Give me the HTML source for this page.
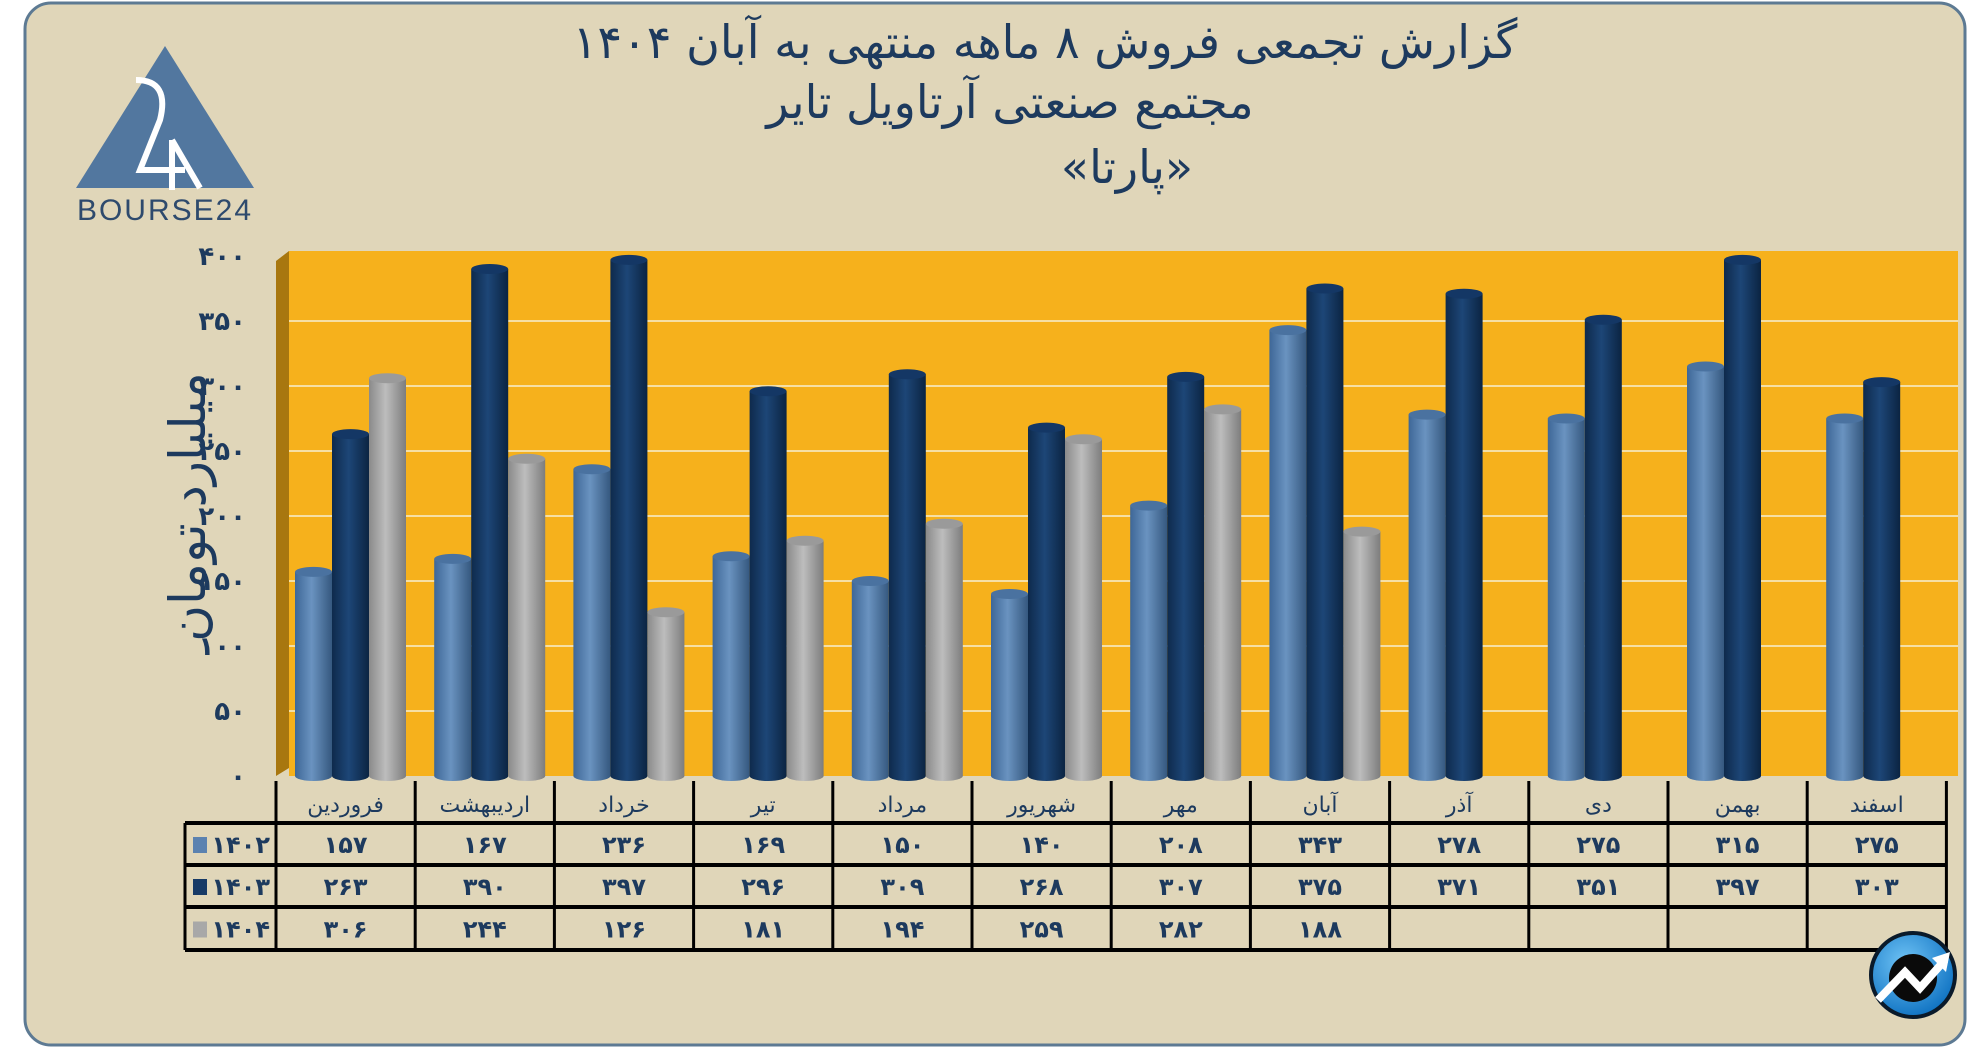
<!DOCTYPE html>
<html><head><meta charset="utf-8">
<style>
html,body{margin:0;padding:0;background:#fff;}
body{width:1986px;height:1047px;overflow:hidden;position:relative;font-family:"DejaVu Sans","Liberation Sans",sans-serif;}
svg{position:absolute;left:0;top:0;}
</style></head>
<body>
<svg id="chart" width="1986" height="1047" viewBox="0 0 1986 1047" xmlns="http://www.w3.org/2000/svg">
<defs>
<linearGradient id="gA" x1="0" x2="1"><stop offset="0" stop-color="#3e6797"/><stop offset="0.45" stop-color="#6a93c0"/><stop offset="1" stop-color="#35587f"/></linearGradient>
<linearGradient id="gB" x1="0" x2="1"><stop offset="0" stop-color="#0e2a4c"/><stop offset="0.45" stop-color="#1d4677"/><stop offset="1" stop-color="#0b2442"/></linearGradient>
<linearGradient id="gC" x1="0" x2="1"><stop offset="0" stop-color="#8a8a8a"/><stop offset="0.45" stop-color="#bdbdbd"/><stop offset="1" stop-color="#7d7d7d"/></linearGradient>
<radialGradient id="gIcon" cx="0.4" cy="0.35" r="0.7"><stop offset="0" stop-color="#6fc3f5"/><stop offset="1" stop-color="#0b6fc0"/></radialGradient>
</defs>
<rect x="25" y="3" width="1940" height="1042" rx="26" fill="#e0d6b9" stroke="#5d7a93" stroke-width="3"/>
<g fill="#1d3a5e" font-size="46" text-anchor="middle" direction="rtl">
<text x="1045" y="58">گزارش تجمعی فروش ۸ ماهه منتهی به آبان ۱۴۰۴</text>
<text x="1010" y="118">مجتمع صنعتی آرتاویل تایر</text>
<text x="1127" y="183">«پارتا»</text>
</g>
<g>
<polygon points="165,46 76,188 254,188" fill="#52779f"/>
<path d="M136,80 Q170,80 160,120 L140,170 L185,170 M172,140 L172,190 M172,140 L200,188" stroke="#fff" stroke-width="6" fill="none"/>
<text x="165" y="220" text-anchor="middle" font-size="30" fill="#2e4a6d" font-family="Liberation Sans, sans-serif" letter-spacing="2">BOURSE24</text>
</g>
<g id="plot"></g>
<g id="table"></g>
<g>
<circle cx="1913" cy="975" r="42" fill="url(#gIcon)" stroke="#0a1a2a" stroke-width="4"/>
<circle cx="1913" cy="978" r="24" fill="#0a0a0a"/>
<path d="M1878,1000 L1905,972 L1920,988 L1945,960" stroke="#fff" stroke-width="8" fill="none"/>
<polygon points="1950,952 1932,958 1946,972" fill="#fff"/>
</g>
</svg>
<script>
const months=["فروردین","اردیبهشت","خرداد","تیر","مرداد","شهریور","مهر","آبان","آذر","دی","بهمن","اسفند"];
const s1402=[157,167,236,169,150,140,208,343,278,275,315,275];
const s1403=[263,390,397,296,309,268,307,375,371,351,397,303];
const s1404=[306,244,126,181,194,259,282,188];
const seriesNames=["۱۴۰۲","۱۴۰۳","۱۴۰۴"];
const yTicks=[0,50,100,150,200,250,300,350,400];

const NS="http://www.w3.org/2000/svg";
function fa(n){return String(n).replace(/\d/g,d=>"۰۱۲۳۴۵۶۷۸۹"[d]);}
function mk(tag,attrs,parent){const e=document.createElementNS(NS,tag);for(const k in attrs)e.setAttribute(k,attrs[k]);parent.appendChild(e);return e;}
const X0=276, CW=139.2, Y0=776, YMAX=400, YPX=520;
const yS=v=>Y0-v/YMAX*YPX;
const plot=document.getElementById('plot');
const table=document.getElementById('table');

// walls
let bw=mk('rect',{x:289,y:251,width:1669,height:Y0-251,fill:'#f6b11c'},plot);


let sw=mk('polygon',{points:`276,${Y0} 289,${Y0-8} 289,${yS(400)-5} 276,${yS(400)+5}`,fill:'#a8770f'},plot);


yTicks.forEach(t=>{
  if(t>0&&t<400){const g=mk('line',{x1:289,x2:1958,y1:yS(t),y2:yS(t),stroke:'#f6dfa4','stroke-width':2},plot);
  
  }
  const l=mk('text',{x:246,y:yS(t)+9,'text-anchor':'end','font-size':26,'font-weight':'bold',fill:'#1d3a5e'},plot);
  
  
  l.textContent=fa(t);
});
const yt=mk('text',{x:0,y:0,'text-anchor':'middle','font-size':50,fill:'#1d3a5e',transform:'translate(205,507) rotate(-90)',direction:'rtl'},plot);


yt.textContent='میلیارد تومان';

const series=[s1402,s1403,s1404], grads=['url(#gA)','url(#gB)','url(#gC)'], tops=['#4a72a0','#143765','#9a9a9a'];
months.forEach((m,i)=>{
  series.forEach((s,k)=>{
    if(s[i]===undefined)return;
    const bx=X0+i*CW+19+k*37, w=37, y=yS(s[i]);
    const r=mk('rect',{x:bx,y:y,width:w,height:Y0-y,fill:grads[k]},plot);
    
    
    mk('ellipse',{cx:bx+w/2,cy:Y0,rx:w/2,ry:5,fill:grads[k]},plot);
    mk('ellipse',{cx:bx+w/2,cy:y,rx:w/2,ry:5,fill:tops[k]},plot);
  });
});

// table
const rows=[781,823,865,907,950];
const TL=185, TR=1945;
for(let i=0;i<=12;i++){const x=X0+i*CW;mk('line',{x1:x,x2:x,y1:781,y2:950,stroke:'#000','stroke-width':3},table);}
mk('line',{x1:TL,x2:TL,y1:823,y2:950,stroke:'#000','stroke-width':3},table);
rows.slice(1).forEach(y=>mk('line',{x1:TL,x2:TR,y1:y,y2:y,stroke:'#000','stroke-width':4},table));
months.forEach((m,i)=>{
  const t=mk('text',{x:X0+i*CW+CW/2,y:812,'text-anchor':'middle','font-size':22,fill:'#1d3a5e',direction:'rtl'},table);
  
  
  t.textContent=m;
});
const sw2=['#5b82b0','#173a66','#a8a8a8'];
series.forEach((s,k)=>{
  const cy=(rows[k+1]+rows[k+2])/2;
  const sq=mk('rect',{x:193,y:cy-7,width:14,height:16,fill:sw2[k]},table);
  
  
  const lt=mk('text',{x:270,y:cy+9,'text-anchor':'end','font-size':24,'font-weight':'bold',fill:'#1d3a5e'},table);
  
  
  lt.textContent=seriesNames[k];
  s.forEach((v,i)=>{
    const t=mk('text',{x:X0+i*CW+CW/2,y:cy+9,'text-anchor':'middle','font-size':24,'font-weight':'bold',fill:'#1d3a5e'},table);
    
    
    t.textContent=fa(v);
  });
});
</script>
</body></html>
